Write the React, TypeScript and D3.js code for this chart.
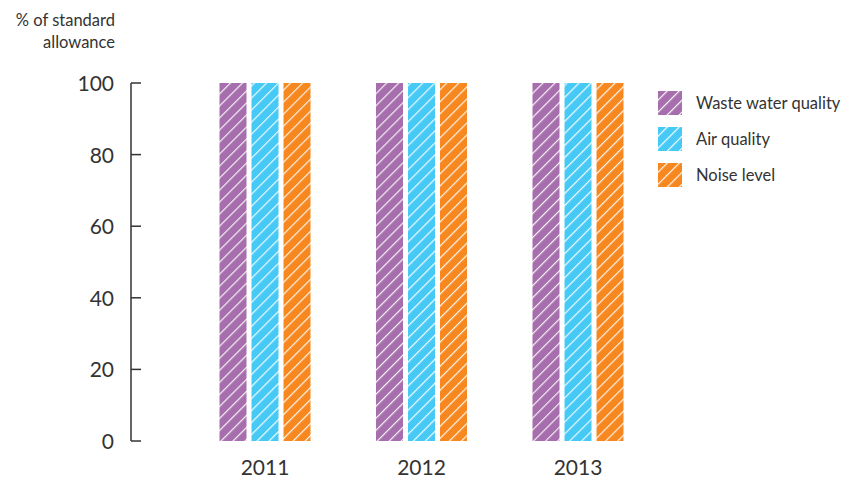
import React from "react";
import * as d3 from "d3";

const years = ["2011", "2012", "2013"];
const seriesNames = ["Waste water quality", "Air quality", "Noise level"];
const seriesColors = ["#a66eac", "#47c9f6", "#f7871f"];
const wasteWater = [100, 100, 100];
const airQuality = [100, 100, 100];
const noiseLevel = [100, 100, 100];
const yTicks = [0, 20, 40, 60, 80, 100];

const seriesValues = [wasteWater, airQuality, noiseLevel];

export default function App() {
  const W = 843, H = 479;
  const y = d3.scaleLinear().domain([0, 100]).range([441, 83]);
  const x0 = d3.scalePoint<string>().domain(years).range([265, 578]);
  const barW = 27, gap = 5;
  const font = "Lato, 'Open Sans', sans-serif";
  const textColor = "#333";
  return (
    <svg width={W} height={H} style={{ position: "absolute", left: 0, top: 0 }}>
      <defs>
        {seriesColors.map((c, i) => (
          <pattern key={i} id={`hatch${i}`} patternUnits="userSpaceOnUse" width={8.5} height={8.5} patternTransform="rotate(45)">
            <rect width={8.5} height={8.5} fill={c} />
            <line x1={0} y1={0} x2={0} y2={8.5} stroke="#fff" strokeWidth={2.4} opacity={0.9} />
          </pattern>
        ))}
      </defs>
      <text x={115} y={26} textAnchor="end" fontFamily={font} fontSize={16.5} fill={textColor}>% of standard</text>
      <text x={115} y={48} textAnchor="end" fontFamily={font} fontSize={16.5} fill={textColor}>allowance</text>
      <line x1={131} x2={131} y1={y(100)} y2={y(0)} stroke="#333" strokeWidth={1.5} />
      {yTicks.map((t) => (
        <g key={t}>
          <line x1={131} x2={141} y1={y(t)} y2={y(t)} stroke="#333" strokeWidth={1.5} />
          <text x={114} y={y(t) + 8} textAnchor="end" fontFamily={font} fontSize={21} fill={textColor}>{t}</text>
        </g>
      ))}
      {years.map((yr, gi) => {
        const cx = x0(yr) as number;
        return (
          <g key={yr}>
            {seriesValues.map((vals, si) => {
              const bx = cx - (3 * barW + 2 * gap) / 2 + si * (barW + gap);
              return (
                <rect key={si} x={bx} y={y(vals[gi])} width={barW} height={y(0) - y(vals[gi])} fill={`url(#hatch${si})`} />
              );
            })}
            <text x={cx} y={475} textAnchor="middle" fontFamily={font} fontSize={21} fill={textColor}>{yr}</text>
          </g>
        );
      })}
      {seriesNames.map((n, i) => (
        <g key={n}>
          <rect x={658} y={91 + i * 36} width={24} height={24} fill={`url(#hatch${i})`} />
          <text x={696} y={109 + i * 36} fontFamily={font} fontSize={16.5} fill={textColor}>{n}</text>
        </g>
      ))}
    </svg>
  );
}
